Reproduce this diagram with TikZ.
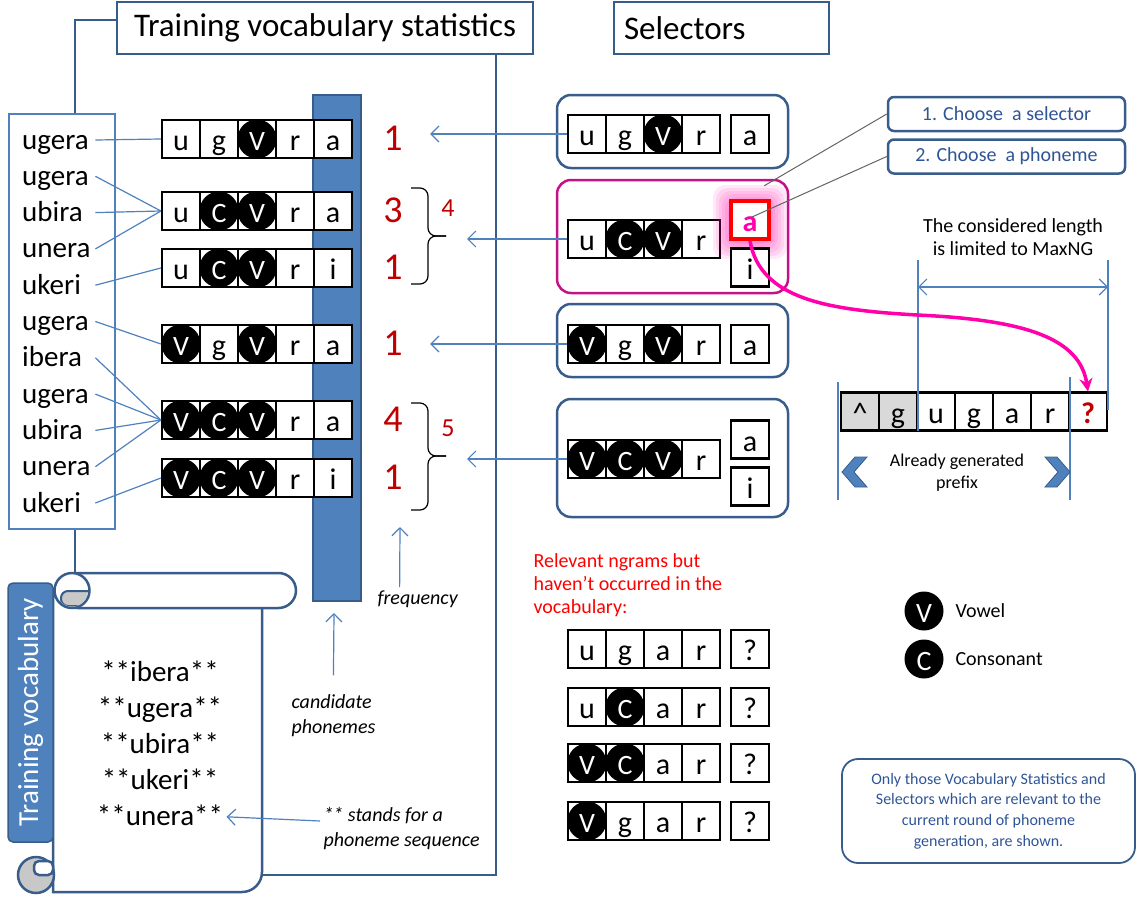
\documentclass[tikz,border=0pt]{standalone}
\usepackage{fontspec}
\setmainfont{Carlito}
\usetikzlibrary{arrows.meta}

\definecolor{frameblue}{RGB}{56,93,138}
\definecolor{lineblue}{RGB}{79,129,189}
\definecolor{cntred}{RGB}{192,0,0}
\definecolor{selpink}{RGB}{196,18,134}
\definecolor{curvepink}{RGB}{255,0,170}
\definecolor{calltext}{RGB}{47,85,151}
\definecolor{cellgrey}{RGB}{217,217,217}
\definecolor{curlgrey}{RGB}{200,200,200}
\definecolor{ldrgrey}{RGB}{100,100,100}

\tikzset{
  cell/.style={draw, line width=2.2pt, fill=white, minimum size=38pt, inner sep=0pt},
  lt/.style={inner sep=0pt, font=\fontsize{30}{32}\selectfont, text height=25pt, text depth=2pt},
  vc/.style={circle, fill=black, text=white, minimum size=39pt, inner sep=0pt,
    font=\fontsize{28}{30}\selectfont, text height=24pt, text depth=2pt},
  qm/.style={lt, text=cntred, font=\fontsize{30}{32}\selectfont\bfseries},
  pa/.style={lt, text=curvepink, font=\fontsize{30}{32}\selectfont\bfseries},
  word/.style={anchor=west, inner sep=0pt, text width=73pt, align=left,
    font=\fontsize{29}{30}\selectfont, text height=20pt, text depth=2pt},
  vword/.style={font=\fontsize{29}{30}\selectfont, text height=20pt, text depth=2pt},
  cnt/.style={text=cntred, minimum width=74pt, inner sep=0pt,
    font=\fontsize{38}{40}\selectfont, text height=24pt, text depth=2pt},
  sumlab/.style={text=cntred, font=\fontsize{26}{28}\selectfont},
  brc/.style={draw=black, line width=1.2pt, rounded corners=8pt},
  frame/.style={draw=frameblue, line width=2.5pt},
  titlebox/.style={draw=frameblue, line width=1.5pt, fill=white, minimum height=52pt,
    font=\fontsize{33}{36}\selectfont},
  selbox/.style={draw=frameblue, line width=2.5pt, rounded corners=14pt, fill=white,
    minimum width=231pt, inner sep=0pt},
  callbox/.style={draw=frameblue, line width=2.5pt, rounded corners=6pt, fill=white,
    minimum width=237pt, minimum height=34pt, inner sep=0pt, text=calltext,
    font=\fontsize{20}{22}\selectfont},
  notebox/.style={draw=frameblue, line width=1.8pt, rounded corners=16pt,
    minimum width=293pt, minimum height=104pt, text=calltext, align=center,
    font=\fontsize{16}{20.7}\selectfont},
  wln/.style={draw=lineblue, line width=1.2pt},
  arr/.style={draw=lineblue, line width=1.2pt, -{Straight Barb[length=8pt,width=16pt]}},
  dim/.style={draw=lineblue, line width=1.2pt},
  ldr/.style={draw=ldrgrey, line width=1pt},
  chev/.style={fill=lineblue, draw=frameblue, line width=0.8pt},
  curve/.style={draw=curvepink, line width=3.5pt, -{Stealth[length=13pt,width=13pt]}},
  scrl/.style={draw=frameblue, line width=2.5pt, fill=white},
  txt/.style={font=\fontsize{20}{23}\selectfont, align=center},
  itx/.style={font=\fontsize{20}{25}\selectfont\itshape, align=left, anchor=west}
}

\newcommand{\phrow}[5][]{%
  \foreach \sty/\phn [count=\i] in {#5}
    \node[cell,#1] (#2-\i) at ({#3+38*(\i-1)},#4) {};
  \foreach \sty/\phn [count=\i] in {#5}
    \node[\sty] (#2-t\i) at (#2-\i) {\phn};
}

\begin{document}
\begin{tikzpicture}[x=1pt, y=-1pt]
\useasboundingbox (0,0) rectangle (1137,899);

\coordinate (scrtop) at (75,573);
\coordinate (scrbr) at (262,875);

\node[titlebox, minimum width=416pt] (tb1) at (325,28) {Training vocabulary statistics};
\node[titlebox, minimum width=215pt, text width=195pt, align=left] (tb2) at (721.5,28) {Selectors};
\node[draw=lineblue, line width=1.5pt, fill=white, minimum width=106pt, minimum height=415pt, inner sep=0pt] (wb) at (62,321.5) {};

\draw[frame] ([yshift=8pt]tb1.west) -| ([xshift=13pt]wb.north);
\draw[frame] ([xshift=13pt]wb.south) -- (scrtop);
\draw[frame] ([xshift=-38pt]tb1.south east) |- (scrbr);

\foreach \w [count=\i] in {ugera,ugera,ubira,unera,ukeri,ugera,ibera,ugera,ubira,unera,ukeri}
  \node[word] (w\i) at (22,{140+36.3*(\i-1)}) {\w};

\node[draw=frameblue, line width=2pt, fill=lineblue, minimum width=48pt, minimum height=506pt, inner sep=0pt] (bar) at (337,348) {};

\phrow{t1}{181}{139}{lt/u,lt/g,vc/V,lt/r,lt/a}
\phrow{t2}{181}{211}{lt/u,vc/C,vc/V,lt/r,lt/a}
\phrow{t3}{181}{268}{lt/u,vc/C,vc/V,lt/r,lt/i}
\phrow{t4}{181}{344}{vc/V,lt/g,vc/V,lt/r,lt/a}
\phrow{t5}{181}{420}{vc/V,vc/C,vc/V,lt/r,lt/a}
\phrow{t6}{181}{478}{vc/V,vc/C,vc/V,lt/r,lt/i}

\draw[wln] (w1.east) -- (t1-1.west);
\foreach \i in {2,3,4} \draw[wln] (w\i.east) -- (t2-1.west);
\draw[wln] (w5.east) -- (t3-1.west);
\draw[wln] (w6.east) -- (t4-1.west);
\foreach \i in {7,...,10} \draw[wln] (w\i.east) -- (t5-1.west);
\draw[wln] (w11.east) -- (t6-1.west);

\foreach \n/\y/\v in {1/139/1,2/211/3,3/268/1,4/344/1,5/420/4,6/478/1}
  \node[cnt] (c\n) at (393,\y) {\v};

\draw[brc] (411,188) -| (428,236) -- (446,236);
\draw[brc] (446,236) -- (428,236) |- (411,284);
\node[sumlab] (sum1) at (448,208) {4};
\draw[brc] (411,403) -| (428,456) -- (446,456);
\draw[brc] (446,456) -- (428,456) |- (411,510);
\node[sumlab] (sum2) at (448,428) {5};
\coordinate (b1) at (467,239);
\coordinate (b2) at (467,459);

\node[selbox, minimum height=73pt] (sb1) at (672.5,131.5) {};
\node[selbox, draw=selpink, minimum height=113pt] (sb2) at (672.5,236.5) {};
\node[selbox, minimum height=73pt] (sb3) at (672.5,340.5) {};
\node[selbox, minimum height=118pt] (sb4) at (672.5,458) {};

\phrow{s1}{587}{134}{lt/u,lt/g,vc/V,lt/r}
\phrow{s1a}{750}{134}{lt/a}
\phrow{s2}{587}{239}{lt/u,vc/C,vc/V,lt/r}
\foreach \g in {0,...,5}
  \node[fill=curvepink, opacity=0.09, rounded corners=12pt, minimum size={44pt+6pt*\g}, inner sep=0pt] (gl\g) at (750,222) {};
\phrow[draw=red, line width=3.5pt]{s2a}{750}{220}{pa/a}
\phrow{s2i}{750}{267.5}{lt/i}
\phrow{s3}{587}{344}{vc/V,lt/g,vc/V,lt/r}
\phrow{s3a}{750}{344}{lt/a}
\phrow{s4}{587}{459}{vc/V,vc/C,vc/V,lt/r}
\phrow{s4a}{750}{439.5}{lt/a}
\phrow{s4i}{750}{486.5}{lt/i}

\draw[arr] (s1-1.west) -- (c1.east |- s1-1.west);
\draw[arr] (s2-1.west) -- (b1);
\draw[arr] (s3-1.west) -- (c4.east |- s3-1.west);
\draw[arr] (s4-1.west) -- (b2);

\node[callbox] (cb1) at (1006.5,114) {1. Choose~~a selector};
\node[callbox] (cb2) at (1006.5,156.5) {2. Choose~~a phoneme};
\draw[ldr] (cb1.west) -- ([xshift=-25pt,yshift=-7pt]sb2.north east);
\draw[ldr] (cb2.west) -- ([xshift=2pt,yshift=3pt]s2a-1.center);

\node[txt] (lenlab) at (1013,237) {The considered length\\is limited to MaxNG};

\phrow[fill=cellgrey]{p}{860}{411.5}{lt/\textasciicircum,lt/g}
\phrow{q}{936}{411.5}{lt/u,lt/g,lt/a,lt/r,qm/?}

\draw[dim] (918,260) -- (918,431);
\draw[dim] (1108,260) -- (1108,410);
\draw[dim] (838,382) -- (838,500);
\draw[dim] (1070,377) -- (1070,500);
\draw[dim, {Straight Barb[length=8pt,width=16pt]}-{Straight Barb[length=8pt,width=16pt]}] (918,287) -- (1108,287);

\filldraw[chev] (867,457) -- (855,457) -- (842,472) -- (855,487) -- (867,487) -- (854,472) -- cycle;
\filldraw[chev] (1045,457) -- (1057,457) -- (1070,472) -- (1057,487) -- (1045,487) -- (1058,472) -- cycle;
\node[txt, font=\fontsize{18}{22}\selectfont] (pfx) at (957,473) {Already generated\\prefix};

\draw[curve] (s2a-1.south) .. controls (760,300) and (830,310) .. (917,315)
  .. controls (1030,320) and (1080,340) .. (q-5.north);

\filldraw[scrl] (53,596) -- (53,892) -- (242,892) to[out=0,in=-90] (262,872) -- (262,605) -- cycle;
\filldraw[scrl, rounded corners=17.5pt] (60,573) rectangle (296,608);
\filldraw[scrl] (72,590.5) circle (17.5pt);
\begin{scope}
  \clip (72,590.5) circle (16pt);
  \filldraw[draw=frameblue, line width=2pt, fill=curlgrey, rounded corners=7pt] (61,591) rectangle (100,606);
\end{scope}
\filldraw[scrl, fill=curlgrey] (36,875) circle (18pt);
\filldraw[scrl, rounded corners=5pt] (34,861) rectangle (53,875);

\node[fill=lineblue, draw=frameblue, line width=1.5pt, rounded corners=5pt, rotate=90,
  minimum width=259pt, minimum height=45pt, text=white, font=\fontsize{29}{30}\selectfont] (tv) at (30.5,712.5) {Training vocabulary};

\foreach \w [count=\i] in {ibera,ugera,ubira,ukeri,unera}
  \node[vword] (v\i) at (160,{672+36.2*(\i-1)}) {**\w**};

\node[itx] (freq) at (374,599) {frequency};
\coordinate (fqt) at (400,527);
\draw[arr] ([xshift=-18pt]freq.north) -- (fqt);
\node[itx] (cand) at (288,716) {candidate\\phonemes};
\coordinate (cbt) at (334,613);
\draw[arr] ([yshift=16pt]cand.north) -- (cbt);
\node[itx] (st) at (320,829) {** stands for a\\phoneme sequence};
\draw[arr] ([yshift=8pt]st.west) -- (v5.east);

\node[txt, text=red, align=left, anchor=west] (rel) at (530,585) {Relevant ngrams but\\haven’t occurred in the\\vocabulary:};

\phrow{n1}{587}{649}{lt/u,lt/g,lt/a,lt/r}
\phrow{n1q}{750}{649}{lt/?}
\phrow{n2}{587}{707}{lt/u,vc/C,lt/a,lt/r}
\phrow{n2q}{750}{707}{lt/?}
\phrow{n3}{587}{763}{vc/V,vc/C,lt/a,lt/r}
\phrow{n3q}{750}{763}{lt/?}
\phrow{n4}{587}{821}{vc/V,lt/g,lt/a,lt/r}
\phrow{n4q}{750}{821}{lt/?}

\node[vc] (lv) at (924,611) {V};
\node[txt, anchor=west] (lvt) at (952,611) {Vowel};
\node[vc] (lc) at (924,659) {C};
\node[txt, anchor=west] (lct) at (952,659) {Consonant};

\node[notebox] (note) at (988.5,811) {Only those Vocabulary Statistics and\\Selectors which are relevant to the\\current round of phoneme\\generation, are shown.};

\end{tikzpicture}
\end{document}
